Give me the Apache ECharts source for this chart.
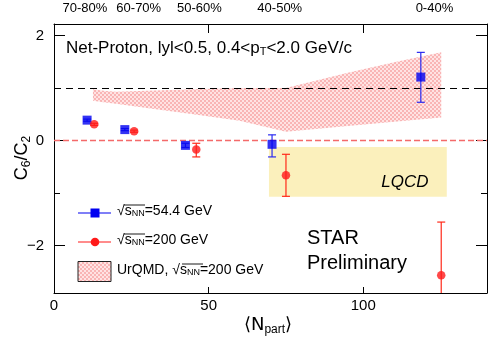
<!DOCTYPE html>
<html>
<head>
<meta charset="utf-8">
<script src="https://cdn.jsdelivr.net/npm/echarts@6/dist/echarts.min.js"></script>
<style>
  html, body { margin: 0; padding: 0; background: #fff; }
  #chart { width: 490px; height: 339px; }
</style>
</head>
<body>
<div id="chart"></div>
<script>
// STAR net-proton C6/C2 vs <Npart>
var blueNpart = [10.7, 22.9, 42.5, 70.5, 118.6];
var blueVal   = [0.39, 0.21, -0.09, -0.07, 1.21];
var blueLow   = [0.37, 0.19, -0.13, -0.31, 0.73];
var blueHigh  = [0.41, 0.23, -0.05, 0.11, 1.68];

var redNpart = [13.0, 25.9, 46.0, 75.0, 125.2];
var redVal   = [0.31, 0.18, -0.17, -0.66, -2.56];
var redLow   = [0.29, 0.16, -0.31, -1.06, -3.57];
var redHigh  = [0.33, 0.20, -0.05, -0.26, -1.55];

// UrQMD band (200 GeV)
var bandNpart = [12.6, 16, 20, 30, 45, 60, 75, 95, 110, 125.2];
var bandHigh  = [0.98, 0.95, 0.93, 0.95, 0.98, 1.0, 1.0, 1.29, 1.49, 1.68];
var bandLow   = [0.76, 0.73, 0.70, 0.62, 0.50, 0.38, 0.17, 0.28, 0.36, 0.44];

// LQCD box
var lqcdX = [69.5, 127];
var lqcdY = [-1.07, -0.12];

var yLabels = [-2, 0, 2];
var yMinor = [-1, 1];
var xLabels = [0, 50, 100];
var xTicks = [50, 100];
var centNames = ['70-80%', '60-70%', '50-60%', '40-50%', '0-40%'];
var centNpart = [10, 27.4, 47, 73, 123];

var FONT = '"Liberation Sans", Arial, sans-serif';

// checkered pink fill like the ROOT hatch
function hatch() {
  var c = document.createElement('canvas');
  c.width = 4; c.height = 4;
  var g = c.getContext('2d');
  g.fillStyle = 'rgba(255,215,215,0.7)';
  g.fillRect(0, 0, 4, 4);
  g.fillStyle = 'rgba(247,170,170,0.8)';
  g.fillRect(0, 0, 2, 2);
  g.fillRect(2, 2, 2, 2);
  return c;
}
var hatchImg = hatch();

function errData(xs, lo, hi) {
  return xs.map(function (x, i) { return [x, lo[i], hi[i]]; });
}

function errRender(color, cap) {
  return function (params, api) {
    var top = api.coord([api.value(0), api.value(2)]);
    var bot = api.coord([api.value(0), api.value(1)]);
    var st = { stroke: color, lineWidth: 1.2 };
    return {
      type: 'group',
      children: [
        { type: 'line', shape: { x1: top[0], y1: top[1], x2: bot[0], y2: bot[1] }, style: st },
        { type: 'line', shape: { x1: top[0] - cap, y1: top[1], x2: top[0] + cap, y2: top[1] }, style: st },
        { type: 'line', shape: { x1: bot[0] - cap, y1: bot[1], x2: bot[0] + cap, y2: bot[1] }, style: st }
      ]
    };
  };
}

var chart = echarts.init(document.getElementById('chart'));

var yBase = { type: 'value', min: -2.9, max: 2.22, splitLine: { show: false } };
function yAx(pos, vals, len, labels, line) {
  return Object.assign({}, yBase, {
    position: pos,
    axisLine: { show: line, lineStyle: { color: '#000', width: 1 } },
    axisTick: { show: true, inside: true, length: len, customValues: vals, lineStyle: { color: '#000' } },
    axisLabel: labels ? { show: true, customValues: vals, fontSize: 15, color: '#000', fontFamily: FONT, margin: 10,
      formatter: function (v) { return v < 0 ? '\u2212' + (-v) : String(v); } } : { show: false }
  });
}

// sqrt(s_NN) legend label with overline
function sqrtLabel(x, y, pre, post) {
  return [
    {
      type: 'text', left: x, top: y,
      style: {
        text: pre + '\u221a{s|s}{sub|NN}' + post, font: '14px ' + FONT, fill: '#000',
        rich: { s: { fontSize: 14 }, sub: { fontSize: 9, padding: [6, 0, 0, 0] } }
      }
    }
  ];
}

var option = {
  animation: false,
  backgroundColor: '#fff',
  textStyle: { fontFamily: FONT },
  grid: { left: 54, right: 3, top: 24, bottom: 46, containLabel: false },
  xAxis: [
    {
      type: 'value', min: 0, max: 140, position: 'bottom',
      splitLine: { show: false },
      axisLine: { show: true, onZero: false, lineStyle: { color: '#000' } },
      axisTick: { inside: true, length: 6, customValues: xTicks, lineStyle: { color: '#000' } },
      axisLabel: { customValues: xLabels, fontSize: 15, color: '#000', fontFamily: FONT, margin: 5 }
    },
    {
      type: 'value', min: 0, max: 140, position: 'top',
      splitLine: { show: false },
      axisLine: { show: true, onZero: false, lineStyle: { color: '#000' } },
      axisTick: { inside: true, length: 9, customValues: xTicks, lineStyle: { color: '#000' } },
      axisLabel: {
        customValues: centNpart, fontSize: 13, color: '#000', fontFamily: FONT, margin: 9,
        formatter: function (v) { return centNames[centNpart.indexOf(v)]; }
      }
    }
  ],
  yAxis: [
    yAx('left', yLabels, 11, true, true),
    yAx('left', yMinor, 6, false, false),
    yAx('right', yLabels, 11, false, true),
    yAx('right', yMinor, 6, false, false)
  ],
  series: [
    {
      name: 'lines', type: 'line', data: [], z: 3,
      markLine: {
        silent: true, symbol: 'none', label: { show: false },
        data: [
          { yAxis: 1, lineStyle: { color: '#000', type: [7, 5], width: 1.2 } },
          { yAxis: 0, lineStyle: { color: '#f46a6a', type: [6, 3], width: 1.4 } }
        ]
      },
      markArea: {
        silent: true,
        itemStyle: { color: '#fbf0bc' },
        label: {
          show: true, position: 'inside', offset: [47, 10],
          fontSize: 17, fontStyle: 'italic', color: '#000', fontFamily: FONT
        },
        data: [[{ name: 'LQCD', xAxis: lqcdX[0], yAxis: lqcdY[1] }, { xAxis: lqcdX[1], yAxis: lqcdY[0] }]]
      }
    },
    {
      name: 'UrQMD', type: 'custom', z: 2,
      data: [0],
      renderItem: function (params, api) {
        var pts = [];
        for (var i = 0; i < bandNpart.length; i++) pts.push(api.coord([bandNpart[i], bandHigh[i]]));
        for (var j = bandNpart.length - 1; j >= 0; j--) pts.push(api.coord([bandNpart[j], bandLow[j]]));
        return {
          type: 'polygon',
          shape: { points: pts },
          style: { fill: { image: hatchImg, repeat: 'repeat' }, stroke: null }
        };
      }
    },
    {
      name: 'blueErr', type: 'custom', z: 5, clip: true,
      data: errData(blueNpart, blueLow, blueHigh),
      renderItem: errRender('#2a2af0', 4)
    },
    {
      name: 'redErr', type: 'custom', z: 5, clip: true,
      data: errData(redNpart, redLow, redHigh),
      renderItem: errRender('#ff2a1a', 4)
    },
    {
      name: '54.4', type: 'scatter', z: 6, symbol: 'rect', symbolSize: 9,
      itemStyle: { color: '#0000f0' },
      data: blueNpart.map(function (x, i) { return [x, blueVal[i]]; })
    },
    {
      name: '200', type: 'scatter', z: 6, symbol: 'circle', symbolSize: 8.5,
      itemStyle: { color: '#ff1a1a' },
      data: redNpart.map(function (x, i) { return [x, redVal[i]]; })
    }
  ],
  graphic: [
    // title
    {
      type: 'text', left: 66, top: 40,
      style: {
        text: 'Net-Proton, lyl<0.5, 0.4<p{sub|T}<2.0 GeV/c',
        font: '17px ' + FONT, fill: '#000',
        rich: { sub: { fontSize: 11, verticalAlign: 'bottom', padding: [6, 0, 0, 0] } }
      }
    },
    // axis titles
    {
      type: 'text', x: 22, y: 158, rotation: Math.PI / 2,
      style: {
        text: 'C{sub|6}/C{sub|2}', font: '18px ' + FONT, fill: '#000', align: 'center', verticalAlign: 'middle',
        rich: { sub: { fontSize: 12, padding: [10, 0, 0, 0] } }
      }
    },
    {
      type: 'text', x: 268, y: 325,
      style: {
        text: '\u27e8N{sub|part}\u27e9', font: '18px "DejaVu Sans", ' + FONT, fill: '#000', align: 'center', verticalAlign: 'middle',
        rich: { sub: { fontSize: 12, fontFamily: FONT, padding: [10, 0, 0, 0] } }
      }
    },
    // STAR Preliminary
    {
      type: 'text', left: 307, top: 226,
      style: { text: 'STAR\nPreliminary', font: '20px ' + FONT, fill: '#000', lineHeight: 25 }
    },
    // legend
    { type: 'line', shape: { x1: 78, y1: 213, x2: 111, y2: 213 }, style: { stroke: '#0000f0', lineWidth: 1.2 } },
    { type: 'rect', shape: { x: 90.5, y: 208.5, width: 9, height: 9 }, style: { fill: '#0000f0' } },
    { type: 'line', shape: { x1: 78, y1: 242, x2: 111, y2: 242 }, style: { stroke: '#ff1a1a', lineWidth: 1.2 } },
    { type: 'circle', shape: { cx: 95, cy: 242, r: 4.3 }, style: { fill: '#ff1a1a' } },
    {
      type: 'rect', shape: { x: 78, y: 261.5, width: 33, height: 20 },
      style: { fill: { image: hatchImg, repeat: 'repeat' }, stroke: '#222', lineWidth: 1 }
    }
  ].concat(
    sqrtLabel(117, 204, '', '=54.4 GeV'),
    sqrtLabel(117, 233, '', '=200 GeV'),
    sqrtLabel(117, 263, 'UrQMD, ', '=200 GeV'),
    [
      { type: 'line', shape: { x1: 124, y1: 205, x2: 145, y2: 205 }, style: { stroke: '#000', lineWidth: 0.9 } },
      { type: 'line', shape: { x1: 124, y1: 234, x2: 145, y2: 234 }, style: { stroke: '#000', lineWidth: 0.9 } },
      { type: 'line', shape: { x1: 182, y1: 264, x2: 203, y2: 264 }, style: { stroke: '#000', lineWidth: 0.9 } }
    ]
  )
};

chart.setOption(option);
</script>
</body>
</html>
